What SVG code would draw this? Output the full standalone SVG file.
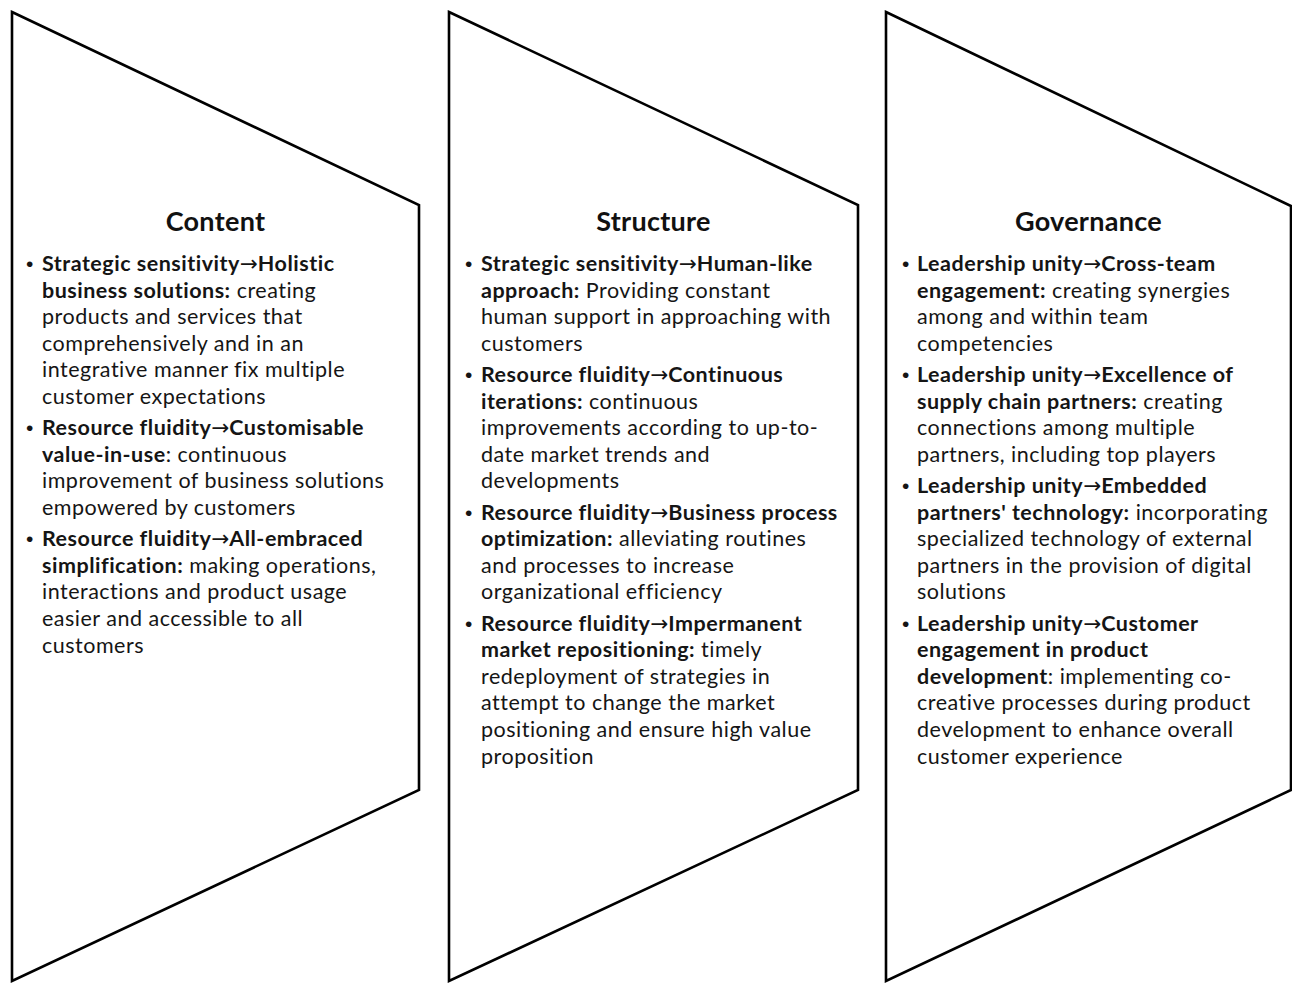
<svg xmlns="http://www.w3.org/2000/svg" width="1292" height="983" viewBox="0 0 1292 983">
  <style>
    .shape { fill: #ffffff; stroke: #000000; stroke-width: 2.6; stroke-linejoin: miter; }
    .title { font-family: Lato, "Liberation Sans", sans-serif; font-weight: 700; font-size: 27px; letter-spacing: 0.3px; fill: #111111; text-anchor: middle; }
    .body { font-family: Lato, "Liberation Sans", sans-serif; font-size: 21.5px; letter-spacing: 0.5px; fill: #151515; }
    .b { font-weight: 700; }
    .arr { font-family: "DejaVu Sans", sans-serif; font-weight: 400; letter-spacing: 0; }
    .dot { font-family: "Liberation Sans", sans-serif; font-size: 21px; fill: #151515; }
  </style>
  <rect width="1292" height="983" fill="#ffffff"/>

  <!-- Column 1: Content -->
  <g id="content">
    <polygon class="shape" points="12,12 419,205 419,790 12,981"/>
    <text class="title" x="215.5" y="231">Content</text>
    <g class="body">
      <text class="dot" x="26" y="271">•</text>
      <text x="42" y="271"><tspan class="b">Strategic sensitivity</tspan><tspan class="arr">→</tspan><tspan class="b">Holistic</tspan></text>
      <text x="42" y="297.6"><tspan class="b">business solutions:</tspan> creating</text>
      <text x="42" y="324.2">products and services that</text>
      <text x="42" y="350.8">comprehensively and in an</text>
      <text x="42" y="377.4">integrative manner fix multiple</text>
      <text x="42" y="404">customer expectations</text>
      <text class="dot" x="26" y="435.2">•</text>
      <text x="42" y="435.2"><tspan class="b">Resource fluidity</tspan><tspan class="arr">→</tspan><tspan class="b">Customisable</tspan></text>
      <text x="42" y="461.8"><tspan class="b">value-in-use</tspan>: continuous</text>
      <text x="42" y="488.4">improvement of business solutions</text>
      <text x="42" y="515">empowered by customers</text>
      <text class="dot" x="26" y="546.2">•</text>
      <text x="42" y="546.2"><tspan class="b">Resource fluidity</tspan><tspan class="arr">→</tspan><tspan class="b">All-embraced</tspan></text>
      <text x="42" y="572.8"><tspan class="b">simplification:</tspan> making operations,</text>
      <text x="42" y="599.4">interactions and product usage</text>
      <text x="42" y="626">easier and accessible to all</text>
      <text x="42" y="652.6">customers</text>
    </g>
  </g>

  <!-- Column 2: Structure -->
  <g id="structure">
    <polygon class="shape" points="449,12 858,205 858,790 449,981"/>
    <text class="title" x="653.5" y="231">Structure</text>
    <g class="body">
      <text class="dot" x="465" y="271">•</text>
      <text x="481" y="271"><tspan class="b">Strategic sensitivity</tspan><tspan class="arr">→</tspan><tspan class="b">Human-like</tspan></text>
      <text x="481" y="297.6"><tspan class="b">approach:</tspan> Providing constant</text>
      <text x="481" y="324.2">human support in approaching with</text>
      <text x="481" y="350.8">customers</text>
      <text class="dot" x="465" y="382">•</text>
      <text x="481" y="382"><tspan class="b">Resource fluidity</tspan><tspan class="arr">→</tspan><tspan class="b">Continuous</tspan></text>
      <text x="481" y="408.6"><tspan class="b">iterations:</tspan> continuous</text>
      <text x="481" y="435.2">improvements according to up-to-</text>
      <text x="481" y="461.8">date market trends and</text>
      <text x="481" y="488.4">developments</text>
      <text class="dot" x="465" y="519.6">•</text>
      <text x="481" y="519.6"><tspan class="b">Resource fluidity</tspan><tspan class="arr">→</tspan><tspan class="b">Business process</tspan></text>
      <text x="481" y="546.2"><tspan class="b">optimization:</tspan> alleviating routines</text>
      <text x="481" y="572.8">and processes to increase</text>
      <text x="481" y="599.4">organizational efficiency</text>
      <text class="dot" x="465" y="630.6">•</text>
      <text x="481" y="630.6"><tspan class="b">Resource fluidity</tspan><tspan class="arr">→</tspan><tspan class="b">Impermanent</tspan></text>
      <text x="481" y="657.2"><tspan class="b">market repositioning:</tspan> timely</text>
      <text x="481" y="683.8">redeployment of strategies in</text>
      <text x="481" y="710.4">attempt to change the market</text>
      <text x="481" y="737">positioning and ensure high value</text>
      <text x="481" y="763.6">proposition</text>
    </g>
  </g>

  <!-- Column 3: Governance -->
  <g id="governance">
    <polygon class="shape" points="886,12 1291,206 1291,790 886,981"/>
    <text class="title" x="1088.5" y="231">Governance</text>
    <g class="body">
      <text class="dot" x="902" y="271">•</text>
      <text x="917" y="271"><tspan class="b">Leadership unity</tspan><tspan class="arr">→</tspan><tspan class="b">Cross-team</tspan></text>
      <text x="917" y="297.6"><tspan class="b">engagement:</tspan> creating synergies</text>
      <text x="917" y="324.2">among and within team</text>
      <text x="917" y="350.8">competencies</text>
      <text class="dot" x="902" y="382">•</text>
      <text x="917" y="382"><tspan class="b">Leadership unity</tspan><tspan class="arr">→</tspan><tspan class="b">Excellence of</tspan></text>
      <text x="917" y="408.6"><tspan class="b">supply chain partners:</tspan> creating</text>
      <text x="917" y="435.2">connections among multiple</text>
      <text x="917" y="461.8">partners, including top players</text>
      <text class="dot" x="902" y="493">•</text>
      <text x="917" y="493"><tspan class="b">Leadership unity</tspan><tspan class="arr">→</tspan><tspan class="b">Embedded</tspan></text>
      <text x="917" y="519.6"><tspan class="b">partners' technology:</tspan> incorporating</text>
      <text x="917" y="546.2">specialized technology of external</text>
      <text x="917" y="572.8">partners in the provision of digital</text>
      <text x="917" y="599.4">solutions</text>
      <text class="dot" x="902" y="630.6">•</text>
      <text x="917" y="630.6"><tspan class="b">Leadership unity</tspan><tspan class="arr">→</tspan><tspan class="b">Customer</tspan></text>
      <text x="917" y="657.2"><tspan class="b">engagement in product</tspan></text>
      <text x="917" y="683.8"><tspan class="b">development</tspan>: implementing co-</text>
      <text x="917" y="710.4">creative processes during product</text>
      <text x="917" y="737">development to enhance overall</text>
      <text x="917" y="763.6">customer experience</text>
    </g>
  </g>
</svg>
